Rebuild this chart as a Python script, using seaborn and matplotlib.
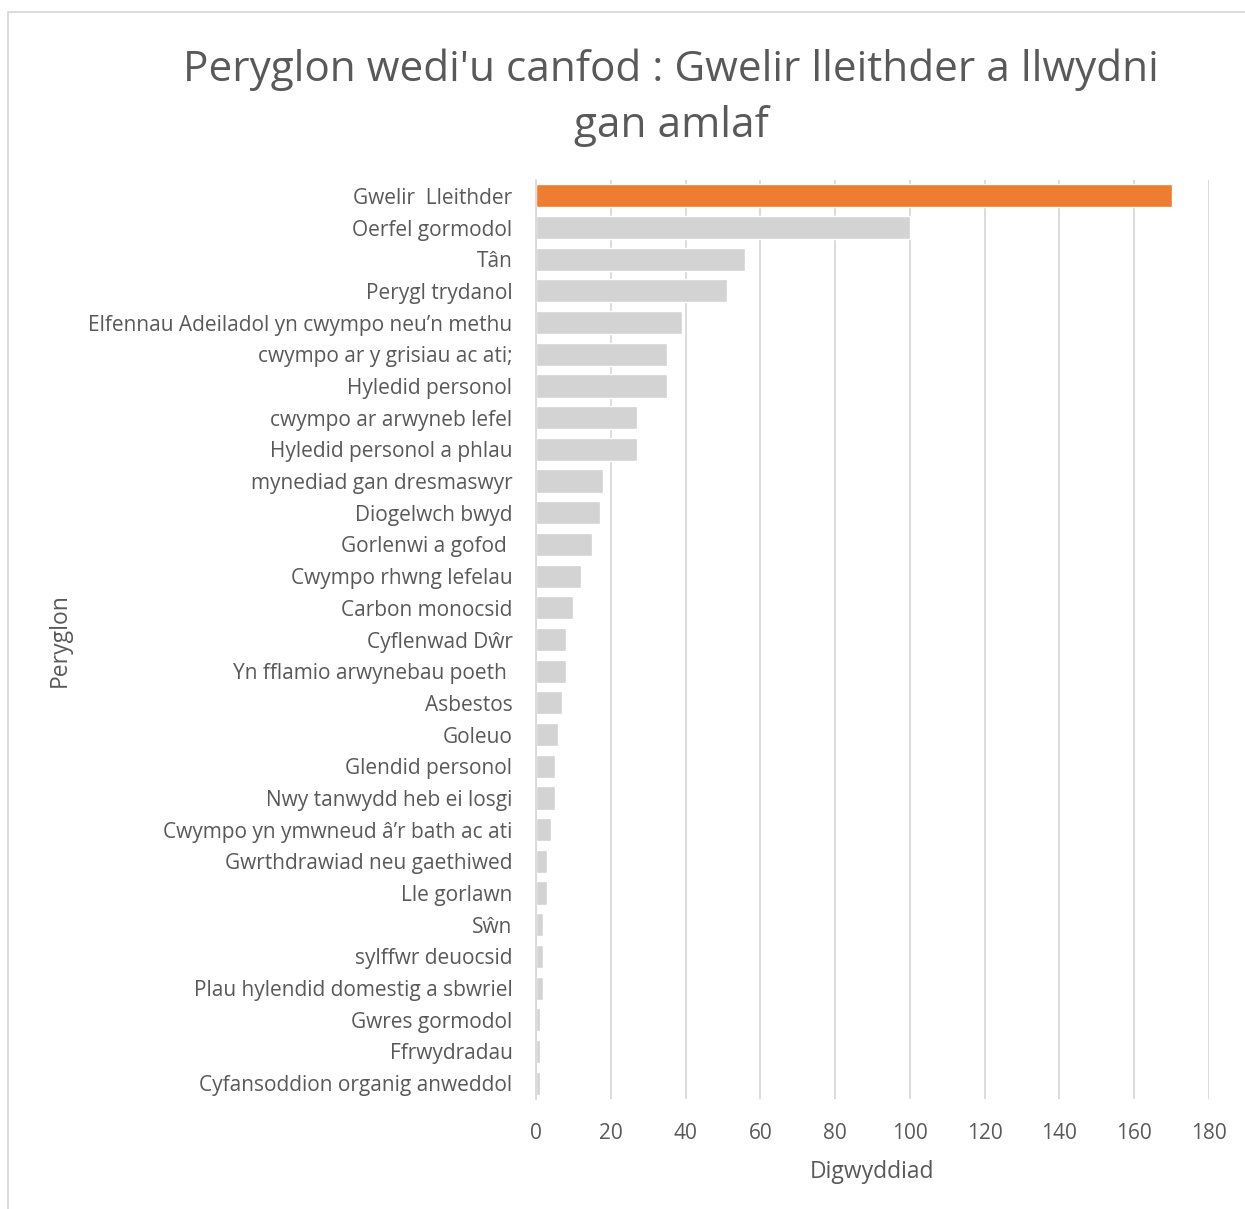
import matplotlib
matplotlib.use("Agg")
import matplotlib.pyplot as plt
import seaborn as sns
import pandas as pd
from matplotlib.patches import Rectangle

categories = [
    "Gwelir  Lleithder", "Oerfel gormodol", "Tân", "Perygl trydanol",
    "Elfennau Adeiladol yn cwympo neu’n methu", "cwympo ar y grisiau ac ati;",
    "Hyledid personol", "cwympo ar arwyneb lefel", "Hyledid personol a phlau",
    "mynediad gan dresmaswyr", "Diogelwch bwyd", "Gorlenwi a gofod ",
    "Cwympo rhwng lefelau", "Carbon monocsid", "Cyflenwad Dŵr",
    "Yn fflamio arwynebau poeth ", "Asbestos", "Goleuo", "Glendid personol",
    "Nwy tanwydd heb ei losgi", "Cwympo yn ymwneud â’r bath ac ati",
    "Gwrthdrawiad neu gaethiwed", "Lle gorlawn", "Sŵn", "sylffwr deuocsid",
    "Plau hylendid domestig a sbwriel", "Gwres gormodol", "Ffrwydradau",
    "Cyfansoddion organig anweddol",
]
values = [170, 100, 56, 51, 39, 35, 35, 27, 27, 18, 17, 15, 12, 10, 8, 8, 7, 6,
          5, 5, 4, 3, 3, 2, 2, 2, 1, 1, 1]
x_ticks = [0, 20, 40, 60, 80, 100, 120, 140, 160, 180]

title = "Peryglon wedi'u canfod : Gwelir lleithder a llwydni\ngan amlaf"
x_label = "Digwyddiad"
y_label = "Peryglon"

df = pd.DataFrame({"cat": categories, "val": values})
palette = ["#ED7D31"] + ["#D3D3D3"] * (len(categories) - 1)

sns.set_theme(style="white")
plt.rcParams["font.family"] = ["Open Sans", "DejaVu Sans"]
text_color = "#595959"

fig = plt.figure(figsize=(12.45, 12.09), dpi=100)
W, H = 1245, 1209
left, right, top, bottom = 536, 1209, 180, 1099
ax = fig.add_axes([left / W, 1 - bottom / H, (right - left) / W, (bottom - top) / H])

sns.barplot(data=df, y="cat", x="val", hue="cat", palette=palette, legend=False,
            orient="h", width=0.73, ax=ax, saturation=1)

ax.set_xlim(0, 180)
ax.set_xticks(x_ticks)
ax.set_xticklabels([str(t) for t in x_ticks])
ax.grid(axis="x", color="#D9D9D9", linewidth=1.3)
ax.set_axisbelow(True)
for s in ["top", "right", "bottom"]:
    ax.spines[s].set_visible(False)
ax.spines["left"].set_color("#D9D9D9")
ax.spines["left"].set_linewidth(1.3)
ax.tick_params(axis="y", length=0, pad=17, labelsize=15, labelcolor=text_color)
ax.tick_params(axis="x", length=0, pad=17, labelsize=15, labelcolor=text_color)
ax.set_xlabel(x_label, fontsize=16.5, color=text_color, labelpad=12)
ax.set_ylabel("")
fig.text(60 / W, 1 - 640 / H, y_label, rotation=90, ha="center", va="center",
         fontsize=16.5, color=text_color)

fig.text(671 / W, 1 - 98 / H, title, ha="center", va="center", fontsize=30.4,
         color=text_color, linespacing=1.45)

fig.patches.append(Rectangle((8 / W, -0.01), 1.02, 1 - 12 / H + 0.01,
                             transform=fig.transFigure, fill=False,
                             edgecolor="#D9D9D9", linewidth=1.3))

fig.savefig("out.png", dpi=100, facecolor="white")
